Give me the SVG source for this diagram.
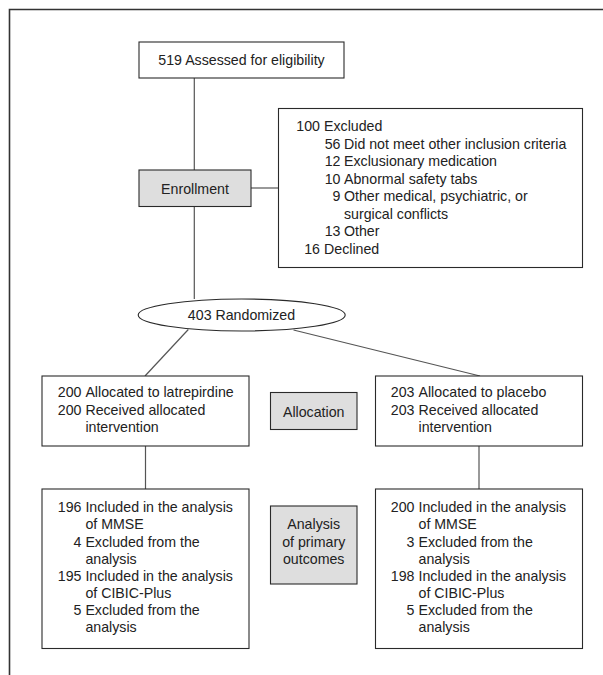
<svg xmlns="http://www.w3.org/2000/svg" width="603" height="675" viewBox="0 0 603 675">
<style>
text{font-family:"Liberation Sans",Arial,sans-serif;font-size:14.2px;fill:#222}
.n{text-anchor:end}
.c{text-anchor:middle}
.box{fill:#fff;stroke:#2a2a2a;stroke-width:1.1}
.gray{fill:#dedede;stroke:#2a2a2a;stroke-width:1.1}
.ln{stroke:#555;stroke-width:1.2;fill:none}
.frame{stroke:#333;stroke-width:1.6;fill:none}
</style>
<rect width="603" height="675" fill="#fff"/>
<path class="frame" d="M9.5,675 V9.5 H603"/>
<g id="connectors">
<line class="ln" x1="194.3" y1="78" x2="194.3" y2="170"/>
<line class="ln" x1="194.3" y1="206.5" x2="194.3" y2="299"/>
<line class="ln" x1="251" y1="188" x2="278.5" y2="188"/>
<line class="ln" x1="188.3" y1="329.5" x2="145" y2="376"/>
<line class="ln" x1="293.5" y1="330" x2="480" y2="376"/>
<line class="ln" x1="145.5" y1="446" x2="145.5" y2="489"/>
<line class="ln" x1="479" y1="446" x2="479" y2="489"/>
</g>
<g id="assessed">
<rect class="box" x="139" y="42" width="205" height="36"/>
<text class="c" x="241.5" y="65">519 Assessed for eligibility</text>
</g>
<g id="enrollment">
<rect class="gray" x="139" y="170" width="112" height="36.5"/>
<text class="c" x="195" y="194.3">Enrollment</text>
</g>
<g id="excluded">
<rect class="box" x="278.5" y="108.5" width="304" height="159"/>
<text class="n" x="320" y="131">100</text><text x="324" y="131">Excluded</text>
<text class="n" x="340.5" y="148.6">56</text><text x="344" y="148.6">Did not meet other inclusion criteria</text>
<text class="n" x="340.5" y="166.1">12</text><text x="344" y="166.1">Exclusionary medication</text>
<text class="n" x="340.5" y="183.7">10</text><text x="344" y="183.7">Abnormal safety tabs</text>
<text class="n" x="340.5" y="201.3">9</text><text x="344" y="201.3">Other medical, psychiatric, or</text>
<text x="344" y="218.9">surgical conflicts</text>
<text class="n" x="340.5" y="236.4">13</text><text x="344" y="236.4">Other</text>
<text class="n" x="320" y="254">16</text><text x="324" y="254">Declined</text>
</g>
<g id="randomized">
<ellipse cx="241.7" cy="315" rx="103.5" ry="16" fill="#fff" stroke="#2a2a2a" stroke-width="1.1"/>
<text class="c" x="241.5" y="320">403 Randomized</text>
</g>
<g id="alloc-latrepirdine">
<rect class="box" x="42" y="376" width="207" height="70"/>
<text class="n" x="81.5" y="397.3">200</text><text x="85.4" y="397.3">Allocated to latrepirdine</text>
<text class="n" x="81.5" y="414.6">200</text><text x="85.4" y="414.6">Received allocated</text>
<text x="85.4" y="431.9">intervention</text>
</g>
<g id="allocation">
<rect class="gray" x="270.5" y="392.5" width="86.5" height="37"/>
<text class="c" x="313.7" y="416.7">Allocation</text>
</g>
<g id="alloc-placebo">
<rect class="box" x="375.5" y="376" width="207" height="70"/>
<text class="n" x="414.5" y="397.3">203</text><text x="418.5" y="397.3">Allocated to placebo</text>
<text class="n" x="414.5" y="414.6">203</text><text x="418.5" y="414.6">Received allocated</text>
<text x="418.5" y="431.9">intervention</text>
</g>
<g id="analysis-latrepirdine">
<rect class="box" x="42" y="489" width="207" height="159.5"/>
<text class="n" x="81.5" y="512.3">196</text><text x="85.4" y="512.3">Included in the analysis</text>
<text x="85.4" y="529.4">of MMSE</text>
<text class="n" x="81.5" y="546.5">4</text><text x="85.4" y="546.5">Excluded from the</text>
<text x="85.4" y="563.6">analysis</text>
<text class="n" x="81.5" y="580.7">195</text><text x="85.4" y="580.7">Included in the analysis</text>
<text x="85.4" y="597.8">of CIBIC-Plus</text>
<text class="n" x="81.5" y="614.9">5</text><text x="85.4" y="614.9">Excluded from the</text>
<text x="85.4" y="632">analysis</text>
</g>
<g id="analysis-label">
<rect class="gray" x="270.5" y="506" width="86.5" height="78"/>
<text class="c" x="313.7" y="529.2">Analysis</text>
<text class="c" x="313.7" y="546.5">of primary</text>
<text class="c" x="313.7" y="563.8">outcomes</text>
</g>
<g id="analysis-placebo">
<rect class="box" x="375.5" y="489" width="207" height="159.5"/>
<text class="n" x="414.5" y="512.3">200</text><text x="418.5" y="512.3">Included in the analysis</text>
<text x="418.5" y="529.4">of MMSE</text>
<text class="n" x="414.5" y="546.5">3</text><text x="418.5" y="546.5">Excluded from the</text>
<text x="418.5" y="563.6">analysis</text>
<text class="n" x="414.5" y="580.7">198</text><text x="418.5" y="580.7">Included in the analysis</text>
<text x="418.5" y="597.8">of CIBIC-Plus</text>
<text class="n" x="414.5" y="614.9">5</text><text x="418.5" y="614.9">Excluded from the</text>
<text x="418.5" y="632">analysis</text>
</g>
</svg>
